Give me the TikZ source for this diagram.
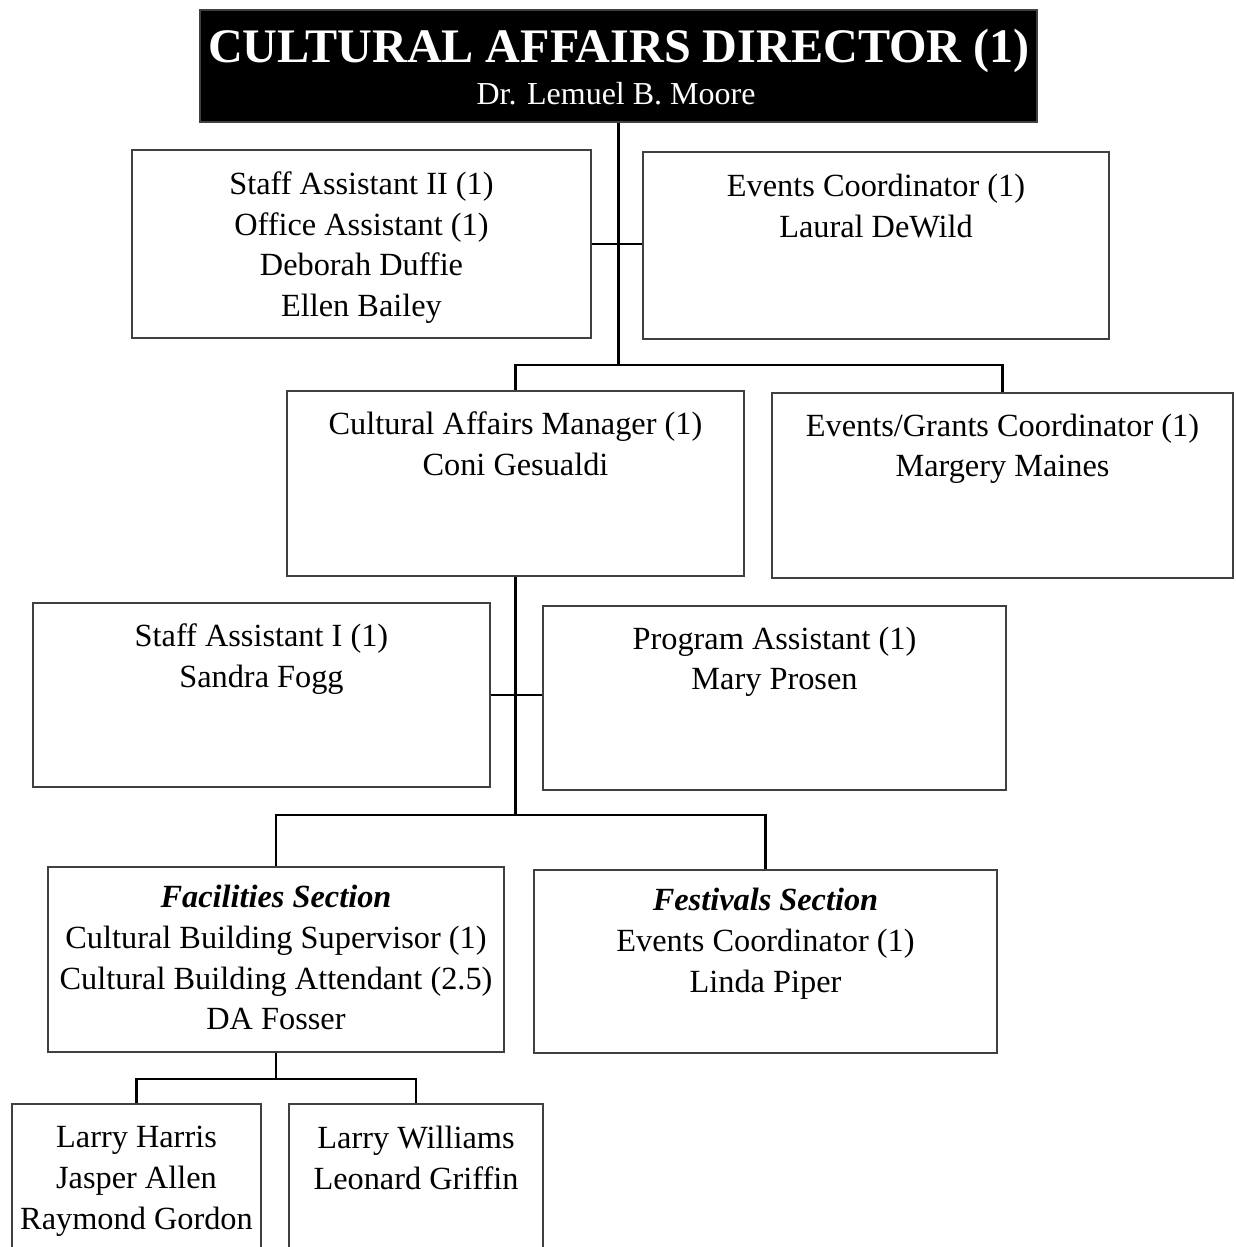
\documentclass[tikz,border=0pt]{standalone}
\usepackage{fontspec}
\setmainfont{Liberation Serif}
\usetikzlibrary{positioning,fit}

\tikzset{
  orgbox/.style={draw=black!75, line width=0.8pt, inner sep=0pt},
  orgtext/.style={align=center, inner sep=0pt, font=\fontsize{18.4}{23.2}\selectfont},
  link/.style={line width=1.6pt},
}

\begin{document}
\begin{tikzpicture}[x=0.02cm,y=-0.02cm]
\useasboundingbox (0,0) rectangle (1235,1247);

% director
\node[orgbox, fill=black, fit={(200,10) (1037,122)}] (dir) {};
\node[text=white, font=\fontsize{27.4}{30}\selectfont\bfseries, anchor=base, inner sep=0pt] (dirtitle) at (619,63) {CULTURAL AFFAIRS DIRECTOR (1)};
\node[text=white, font=\fontsize{18.2}{21}\selectfont, anchor=base, inner sep=0pt] (dirname) at (616,105) {Dr. Lemuel B. Moore};

% first row
\node[orgbox, fit={(132,150) (591,338)}] (sa2) {};
\node[orgtext, below=12.5pt of sa2.north] (sa2text) {Staff Assistant II (1)\\Office Assistant (1)\\Deborah Duffie\\Ellen Bailey};
\node[orgbox, fit={(643,152) (1109,339)}] (ec) {};
\node[orgtext, below=13pt of ec.north] (ectext) {Events Coordinator (1)\\Laural DeWild};

% second row
\node[orgbox, fit={(287,391) (744,576)}] (cam) {};
\node[orgtext, below=12pt of cam.north] (camtext) {Cultural Affairs Manager (1)\\Coni Gesualdi};
\node[orgbox, fit={(772,393) (1233,578)}] (egc) {};
\node[orgtext, below=12pt of egc.north] (egctext) {Events/Grants Coordinator (1)\\Margery Maines};

% third row
\node[orgbox, fit={(33,603) (490,787)}] (sa1) {};
\node[orgtext, below=12pt of sa1.north] (sa1text) {Staff Assistant I (1)\\Sandra Fogg};
\node[orgbox, fit={(543,606) (1006,790)}] (pa) {};
\node[orgtext, below=12pt of pa.north] (patext) {Program Assistant (1)\\Mary Prosen};

% sections
\node[orgbox, fit={(48,867) (504,1052)}] (fac) {};
\node[orgtext, below=10.5pt of fac.north] (factext) {\textbf{\textit{Facilities Section}}\\Cultural Building Supervisor (1)\\Cultural Building Attendant (2.5)\\DA Fosser};
\node[orgbox, fit={(534,870) (997,1053)}] (fest) {};
\node[orgtext, below=10.5pt of fest.north] (festtext) {\textbf{\textit{Festivals Section}}\\Events Coordinator (1)\\Linda Piper};

% attendants
\node[orgbox, fit={(12,1104) (261,1265)}] (lh) {};
\node[orgtext, below=13pt of lh.north] (lhtext) {Larry Harris\\Jasper Allen\\Raymond Gordon};
\node[orgbox, fit={(289,1104) (543,1265)}] (lw) {};
\node[orgtext, below=13pt of lw.north] (lwtext) {Larry Williams\\Leonard Griffin};

% connectors
\coordinate (j0) at (618.5,365);
\coordinate (j1) at (515.5,815);
\coordinate (j2) at (276,1079);
\draw[link] (dir.south) -- (j0);
\draw[link] (sa2.east) -- (sa2.east -| ec.west);
\draw[link] (cam.north) |- (j0) -| (egc.north);
\draw[link] (cam.south) -- (j1);
\draw[link] (sa1.east) -- (sa1.east -| pa.west);
\draw[link] (fac.north) |- (j1) -| (fest.north);
\draw[link] (fac.south) -- (j2);
\draw[link] (lh.north) |- (j2) -| (lw.north);
\end{tikzpicture}
\end{document}
